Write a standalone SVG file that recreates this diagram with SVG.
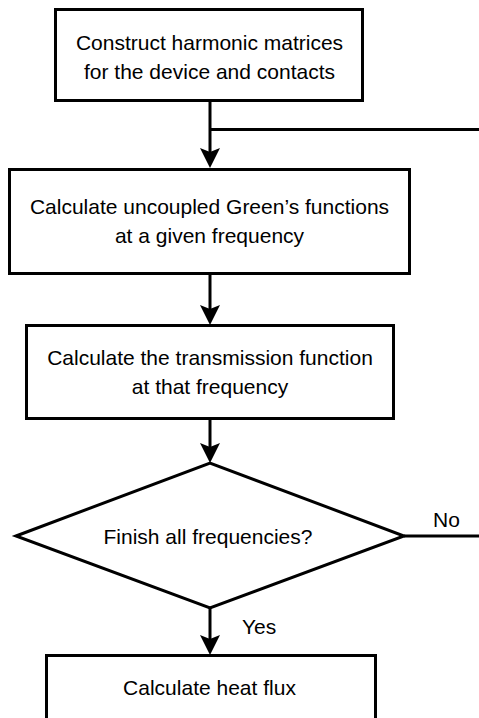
<svg xmlns="http://www.w3.org/2000/svg" width="479" height="718" viewBox="0 0 479 718">
<style>
.box{fill:#fff;stroke:#000;stroke-width:3}
.t{font-family:"Liberation Sans",Arial,sans-serif;font-size:21px;fill:#000;text-anchor:middle}
.tl{font-family:"Liberation Sans",Arial,sans-serif;font-size:21px;fill:#000}
.c{fill:none;stroke:#000;stroke-width:3}
</style>
<defs>
<marker id="ah" viewBox="0 0 20 20" refX="12" refY="10" markerWidth="20" markerHeight="20" orient="auto" markerUnits="userSpaceOnUse">
<path d="M0,0 L20,10 L0,20 L4,10 Z" fill="#000"/>
</marker>
</defs>
<rect width="479" height="718" fill="#fff"/>
<g id="connectors">
<line class="c" x1="210" y1="100.5" x2="210" y2="160" marker-end="url(#ah)"/>
<line class="c" x1="210" y1="129.5" x2="479" y2="129.5"/>
<line class="c" x1="210" y1="273.5" x2="210" y2="317" marker-end="url(#ah)"/>
<line class="c" x1="210" y1="418.5" x2="210" y2="455" marker-end="url(#ah)"/>
<line class="c" x1="404" y1="536" x2="479" y2="536"/>
<line class="c" x1="210" y1="608" x2="210" y2="647" marker-end="url(#ah)"/>
</g>
<g id="node1">
<rect class="box" x="55.5" y="9.5" width="307" height="91"/>
<text class="t" x="209.5" y="50">Construct harmonic matrices</text>
<text class="t" x="209.5" y="79">for the device and contacts</text>
</g>
<g id="node2">
<rect class="box" x="9.5" y="169.5" width="400" height="104"/>
<text class="t" x="209.5" y="214">Calculate uncoupled Green’s functions</text>
<text class="t" x="209.5" y="243">at a given frequency</text>
</g>
<g id="node3">
<rect class="box" x="26.5" y="325.5" width="367" height="93"/>
<text class="t" x="210" y="365">Calculate the transmission function</text>
<text class="t" x="210" y="394">at that frequency</text>
</g>
<g id="node4">
<polygon class="box" points="16,536 210,463 404,536 210,608"/>
<text class="t" x="208" y="544">Finish all frequencies?</text>
</g>
<g id="node5">
<rect class="box" x="46.5" y="655.5" width="329" height="70"/>
<text class="t" x="209.5" y="695">Calculate heat flux</text>
</g>
<g id="labels">
<text class="tl" x="433" y="527">No</text>
<text class="tl" x="242" y="634">Yes</text>
</g>
</svg>
